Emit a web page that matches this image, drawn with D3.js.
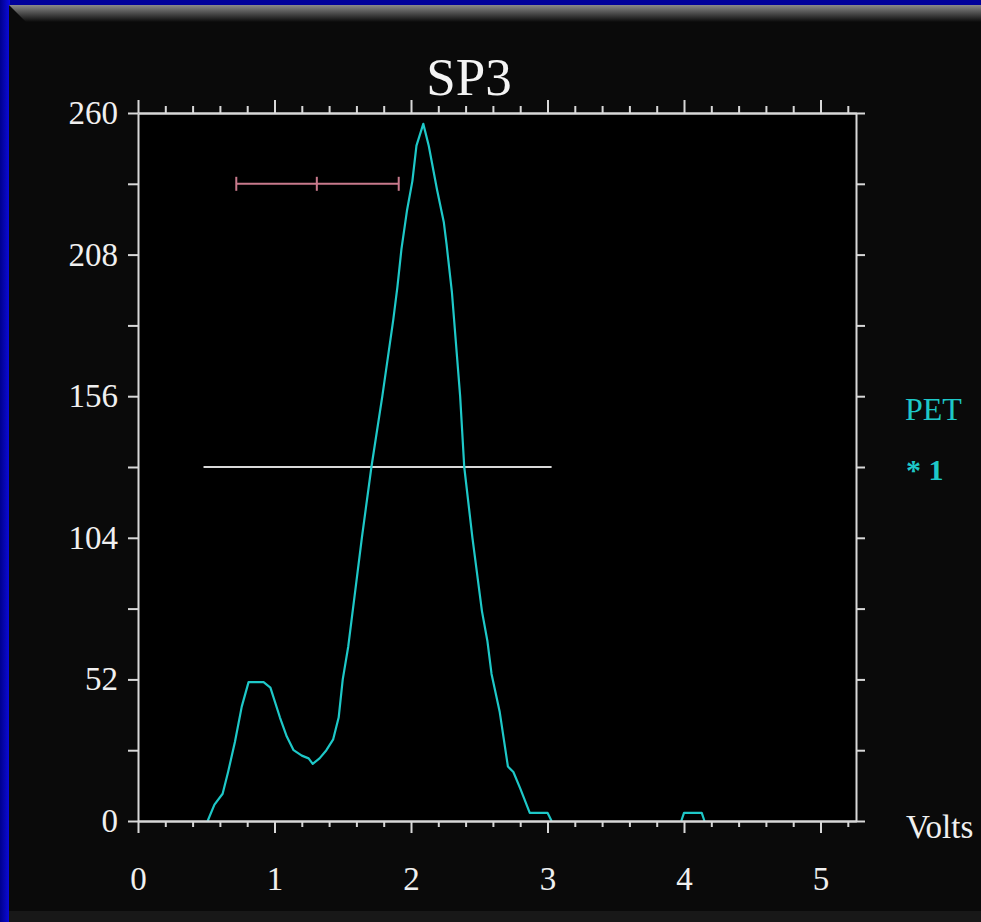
<!DOCTYPE html>
<html>
<head>
<meta charset="utf-8">
<script src="https://cdn.jsdelivr.net/npm/d3@7/dist/d3.min.js"></script>
<style>
  html, body { margin: 0; padding: 0; background: #0000b4; }
  svg { display: block; }
  text { font-family: "Liberation Serif", "Times New Roman", serif; }
</style>
</head>
<body>
<svg id="chart" width="981" height="922"></svg>
<script>
// PET signal trace: voltage (V) vs. count
const volts = [0.51, 0.56, 0.62, 0.66, 0.71, 0.76, 0.81, 0.92, 0.97, 1.04, 1.09, 1.14, 1.20, 1.25, 1.28,
  1.33, 1.38, 1.43, 1.47, 1.50, 1.54, 1.59, 1.64, 1.71, 1.79, 1.87, 1.90, 1.93, 1.97, 2.01, 2.04,
  2.09, 2.13, 2.19, 2.24, 2.26, 2.30, 2.36, 2.39, 2.45, 2.52, 2.56, 2.59, 2.65, 2.71, 2.75, 2.80,
  2.87, 3.00, 3.03, null, 3.98, 4.00, 4.13, 4.15];
const counts = [0, 6, 10, 18, 29, 42, 51, 51, 49, 38, 31, 26, 24, 23, 21,
  23, 26, 30, 38, 52, 64, 84, 104, 130, 156, 184, 196, 210, 224, 235, 248,
  256, 248, 232, 220, 212, 194, 156, 130, 104, 77, 66, 54, 40, 20, 18, 12,
  3, 3, 0, null, 0, 3, 3, 0];

// half-maximum level and its span
const halfMaxLevel = 130;
const halfMaxSpan = [0.48, 3.03];

// resolution bar: start, centre, end
const barLevel = 234;
const barPoints = [0.72, 1.31, 1.91];

// axis ticks
const xMajorTicks = [0, 1, 2, 3, 4, 5];
const xMinorTicks = d3.range(0, 27).map(i => +(i * 0.2).toFixed(1)).filter(v => v % 1 !== 0);
const yTicks = [0, 26, 52, 78, 104, 130, 156, 182, 208, 234, 260];
const yLabelTicks = [0, 52, 104, 156, 208, 260];

const titleText = "SP3";
const xAxisTitle = "Volts";
const legendLabels = ["PET", "* 1"];

const svg = d3.select("#chart");
const W = 981, H = 922;

// slide frame
const defs = svg.append("defs");
const bevel = defs.append("linearGradient").attr("id", "bevel").attr("x1", 0).attr("y1", 0).attr("x2", 0).attr("y2", 1);
bevel.append("stop").attr("offset", "0%").attr("stop-color", "#8a8a8a");
bevel.append("stop").attr("offset", "100%").attr("stop-color", "#0a0a0a");
const leftBlue = defs.append("linearGradient").attr("id", "leftBlue").attr("x1", 0).attr("y1", 0).attr("x2", 1).attr("y2", 0);
leftBlue.append("stop").attr("offset", "0%").attr("stop-color", "#00008c");
leftBlue.append("stop").attr("offset", "100%").attr("stop-color", "#0c0ce0");

svg.append("rect").attr("x", 0).attr("y", 0).attr("width", W).attr("height", H).attr("fill", "#00009a");
svg.append("rect").attr("x", 0).attr("y", 0).attr("width", 10).attr("height", H).attr("fill", "url(#leftBlue)");
svg.append("rect").attr("x", 9).attr("y", 5).attr("width", W - 9).attr("height", H - 5).attr("fill", "#0a0a0a");
svg.append("path")
  .attr("d", `M9,5 L${W},5 L${W},22 L26,22 Z`)
  .attr("fill", "url(#bevel)");
svg.append("rect").attr("x", 9).attr("y", 911).attr("width", W - 9).attr("height", H - 911).attr("fill", "#181818");

// scales
const x = d3.scaleLinear().domain([0, 5.26]).range([138, 856]);
const y = d3.scaleLinear().domain([0, 260]).range([821, 113]);

// plot area
svg.append("rect")
  .attr("x", x(0)).attr("y", y(260))
  .attr("width", x(5.26) - x(0)).attr("height", y(0) - y(260))
  .attr("fill", "#000");

// half-maximum line
svg.append("line")
  .attr("x1", x(halfMaxSpan[0])).attr("x2", x(halfMaxSpan[1]))
  .attr("y1", y(halfMaxLevel)).attr("y2", y(halfMaxLevel))
  .attr("stroke", "#d8d8d8").attr("stroke-width", 2);

// resolution bar
const barG = svg.append("g").attr("stroke", "#c87a8c").attr("stroke-width", 2);
barG.append("line")
  .attr("x1", x(barPoints[0])).attr("x2", x(barPoints[2]))
  .attr("y1", y(barLevel)).attr("y2", y(barLevel));
barG.selectAll("line.cap").data(barPoints).join("line").attr("class", "cap")
  .attr("x1", d => x(d)).attr("x2", d => x(d))
  .attr("y1", y(barLevel) - 7).attr("y2", y(barLevel) + 7);

// trace
const pts = volts.map((v, i) => ({ v, c: counts[i] }));
const line = d3.line()
  .defined(d => d.v !== null)
  .x(d => x(d.v))
  .y(d => y(d.c));
svg.append("path")
  .datum(pts)
  .attr("d", line)
  .attr("fill", "none")
  .attr("stroke", "#1ec8c8")
  .attr("stroke-width", 2.2)
  .attr("stroke-linejoin", "round");

// axes
function styleAxis(g) {
  g.selectAll("path.domain").attr("stroke", "#d8d8d8").attr("stroke-width", 2);
  g.selectAll(".tick line").attr("stroke", "#d8d8d8").attr("stroke-width", 2);
  g.selectAll(".tick text").attr("fill", "#f0f0f0")
    .style("font-family", '"Liberation Serif", "Times New Roman", serif')
    .style("font-size", "33px");
}

svg.append("g").attr("transform", `translate(0,${y(0)})`)
  .call(d3.axisBottom(x).tickValues(xMinorTicks).tickSize(6).tickSizeOuter(0).tickFormat(""))
  .call(styleAxis);
svg.append("g").attr("transform", `translate(0,${y(0)})`)
  .call(d3.axisBottom(x).tickValues(xMajorTicks).tickSize(12).tickSizeOuter(0).tickPadding(34).tickFormat(d3.format("d")))
  .call(styleAxis);

svg.append("g").attr("transform", `translate(0,${y(260)})`)
  .call(d3.axisTop(x).tickValues(xMinorTicks).tickSize(7).tickSizeOuter(0).tickFormat(""))
  .call(styleAxis);
svg.append("g").attr("transform", `translate(0,${y(260)})`)
  .call(d3.axisTop(x).tickValues(xMajorTicks).tickSize(13).tickSizeOuter(0).tickFormat(""))
  .call(styleAxis);

svg.append("g").attr("transform", `translate(${x(0)},0)`)
  .call(d3.axisLeft(y).tickValues(yTicks).tickSize(10).tickSizeOuter(0).tickPadding(10)
    .tickFormat(d => yLabelTicks.includes(d) ? d : ""))
  .call(styleAxis);

svg.append("g").attr("transform", `translate(${x(5.26)},0)`)
  .call(d3.axisRight(y).tickValues(yTicks).tickSize(9).tickSizeOuter(0).tickFormat(""))
  .call(styleAxis);

// title
svg.append("text")
  .attr("x", 469).attr("y", 95)
  .attr("text-anchor", "middle")
  .attr("fill", "#f4f4f4")
  .style("font-size", "53px")
  .text(titleText);

// axis title
svg.append("text")
  .attr("x", 906).attr("y", 838)
  .attr("fill", "#f0f0f0")
  .style("font-size", "33px")
  .text(xAxisTitle);

// legend
svg.append("text")
  .attr("x", 905).attr("y", 420)
  .attr("fill", "#1ec8c8")
  .style("font-size", "32px")
  .text(legendLabels[0]);
svg.append("text")
  .attr("x", 906).attr("y", 480)
  .attr("fill", "#1ec8c8")
  .style("font-size", "30px")
  .style("font-weight", "bold")
  .text(legendLabels[1]);
</script>
</body>
</html>
